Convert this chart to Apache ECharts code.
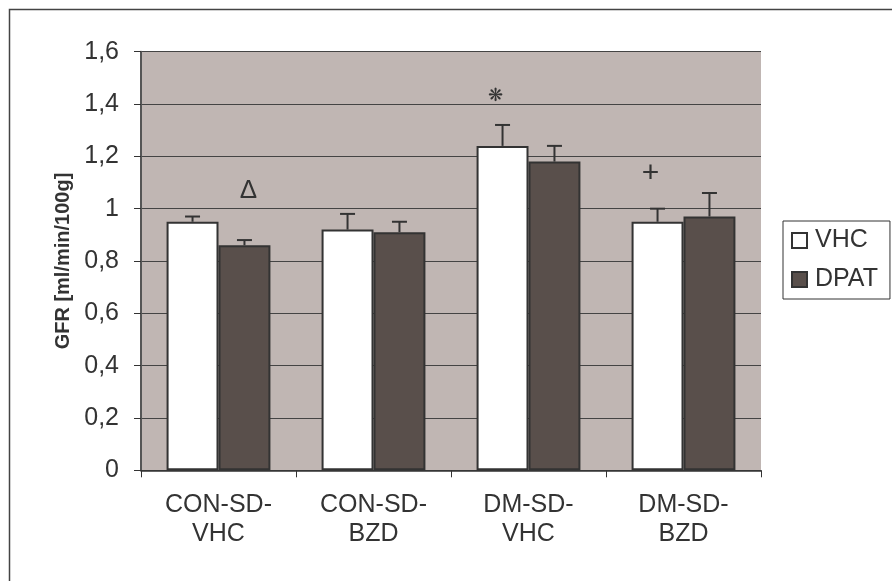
<!DOCTYPE html>
<html>
<head>
<meta charset="utf-8">
<script src="https://cdn.jsdelivr.net/npm/echarts@6/dist/echarts.min.js"></script>
<style>
html,body{margin:0;padding:0;background:#fff;}
#chart{width:892px;height:581px;}
</style>
</head>
<body>
<div id="chart"></div>
<script>
// ---- data ----
const categories = ['CON-SD-\nVHC', 'CON-SD-\nBZD', 'DM-SD-\nVHC', 'DM-SD-\nBZD'];
const seriesNames = ['VHC', 'DPAT'];
const vhcMean = [0.95, 0.92, 1.24, 0.95];
const vhcErr  = [0.02, 0.06, 0.08, 0.05];
const dpatMean = [0.86, 0.91, 1.18, 0.97];
const dpatErr  = [0.02, 0.04, 0.06, 0.09];
// significance marks: [category index, series index, height (data units), symbol]
const sigMarks = [[0, 1, 1.067, 'Δ'], [2, 0, 1.43, '❋'], [3, 0, 1.133, '+']];
const yMin = 0, yMax = 1.6, yStep = 0.2;

const CAT_GAP = 0.33;
const FONT = '"Liberation Sans", Arial, sans-serif';
const TXT = '#333';

function barCenterX(api, cat, sIdx) {
  const catW = api.size([1, 0])[0];
  const barW = catW * (1 - CAT_GAP) / 2;
  const cx = api.coord([cat, 0])[0];
  return cx + (sIdx === 0 ? -barW / 2 : barW / 2);
}

function errorSeries(name, sIdx, means, errs) {
  return {
    type: 'custom',
    name: name + '_err',
    z: 5,
    data: means.map((m, i) => [i, m, errs[i]]),
    renderItem: function (params, api) {
      const cat = api.value(0), m = api.value(1), e = api.value(2);
      const x = barCenterX(api, cat, sIdx);
      const yb = api.coord([cat, m])[1];
      const yt = api.coord([cat, m + e])[1];
      const st = { stroke: '#333', lineWidth: 2 };
      return {
        type: 'group',
        children: [
          { type: 'line', shape: { x1: x, y1: yb, x2: x, y2: yt }, style: st },
          { type: 'line', shape: { x1: x - 7.5, y1: yt, x2: x + 7.5, y2: yt }, style: st }
        ]
      };
    }
  };
}

const chart = echarts.init(document.getElementById('chart'));
chart.setOption({
  animation: false,
  backgroundColor: '#fff',
  graphic: [{
    type: 'rect', silent: true,
    shape: { x: 9.5, y: 9.5, width: 1000, height: 1000 },
    style: { fill: 'none', stroke: '#444', lineWidth: 1.5 }
  }],
  grid: {
    left: 141, right: 131, top: 51.7, bottom: 110.7,
    show: true, backgroundColor: '#C0B6B3', borderWidth: 0
  },
  legend: {
    orient: 'vertical',
    left: 783, top: 221,
    data: seriesNames,
    icon: 'rect',
    itemWidth: 15, itemHeight: 15, itemGap: 14,
    padding: [7, 12, 7, 8],
    borderColor: '#333', borderWidth: 1,
    textStyle: { fontFamily: FONT, fontSize: 25, color: TXT, padding: [0, 0, 0, 3] }
  },
  xAxis: {
    type: 'category',
    data: categories,
    axisLine: { lineStyle: { color: '#333', width: 1.5 } },
    axisTick: { show: true, alignWithLabel: false, length: 7, lineStyle: { color: '#333' } },
    axisLabel: { fontFamily: FONT, fontSize: 25, lineHeight: 29, color: TXT, margin: 20 }
  },
  yAxis: {
    type: 'value',
    min: yMin, max: yMax, interval: yStep,
    name: 'GFR [ml/min/100g]',
    nameLocation: 'middle',
    nameGap: 62,
    nameTextStyle: { fontFamily: FONT, fontSize: 20, fontWeight: 'bold', color: TXT },
    axisLine: { show: true, lineStyle: { color: '#555', width: 2 } },
    axisTick: { show: true, length: 7, lineStyle: { color: '#333' } },
    axisLabel: {
      fontFamily: FONT, fontSize: 25, color: TXT, margin: 22,
      formatter: v => String(+v.toFixed(1)).replace('.', ',')
    },
    splitLine: { lineStyle: { color: '#444', width: 1 } }
  },
  series: [
    {
      name: 'VHC', type: 'bar', data: vhcMean,
      barGap: '0%', barCategoryGap: (CAT_GAP * 100) + '%',
      itemStyle: { color: '#FFFFFF', borderColor: '#333', borderWidth: 2 }
    },
    {
      name: 'DPAT', type: 'bar', data: dpatMean,
      barGap: '0%', barCategoryGap: (CAT_GAP * 100) + '%',
      itemStyle: { color: '#594F4B', borderColor: '#333', borderWidth: 2 }
    },
    errorSeries('VHC', 0, vhcMean, vhcErr),
    errorSeries('DPAT', 1, dpatMean, dpatErr),
    {
      type: 'custom', name: 'sig', z: 6,
      data: sigMarks,
      renderItem: function (params, api) {
        const d = sigMarks[params.dataIndex];
        const x = barCenterX(api, d[0], d[1]) - (d[1] === 0 ? 7 : -4);
        const y = api.coord([d[0], d[2]])[1];
        const font = d[3] === '❋' ? '18px "DejaVu Sans", sans-serif'
                   : d[3] === '+' ? '30px ' + FONT : '26px ' + FONT;
        return {
          type: 'text',
          style: {
            x: x, y: y, text: d[3], align: 'center', verticalAlign: 'middle',
            font: font, fill: '#333'
          }
        };
      }
    }
  ]
});
</script>
</body>
</html>
